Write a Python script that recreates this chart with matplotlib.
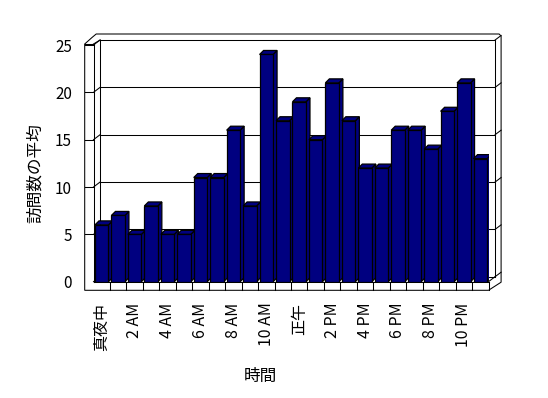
import matplotlib
matplotlib.use('Agg')
import matplotlib.pyplot as plt
from matplotlib.patches import Polygon

plt.rcParams['font.family'] = ['Noto Sans CJK JP', 'DejaVu Sans']

# ---- data ----
hours = list(range(24))
values = [6, 7, 5, 8, 5, 5, 11, 11, 16, 8, 24, 17, 19, 15, 21, 17, 12, 12, 16, 16, 14, 18, 21, 13]
tick_positions = [0, 2, 4, 6, 8, 10, 12, 14, 16, 18, 20, 22]
tick_labels = ['真夜中', '2 AM', '4 AM', '6 AM', '8 AM', '10 AM', '正午',
               '2 PM', '4 PM', '6 PM', '8 PM', '10 PM']
y_ticks = [0, 5, 10, 15, 20, 25]
x_title = '時間'
y_title = '訪問数の平均'

# ---- figure / axes ----
W, H = 548, 398
fig = plt.figure(figsize=(W / 100, H / 100), dpi=100)
fig.patch.set_facecolor('white')

bg = fig.add_axes([0, 0, 1, 1])
bg.set_xlim(0, W)
bg.set_ylim(H, 0)
bg.axis('off')

FRONT_L, FRONT_R, FRONT_B, FRONT_T = 93.5, 488.5, 281.7, 45.0
ax = fig.add_axes([FRONT_L / W, (H - FRONT_B) / H, (FRONT_R - FRONT_L) / W, (FRONT_B - FRONT_T) / H])
ax.set_xlim(-0.5, 23.5)
ax.set_ylim(0, 25)
ax.patch.set_alpha(0)
for s in ax.spines.values():
    s.set_visible(False)


def to_px(x, y):
    X, Y = ax.transData.transform((x, y))
    return X, H - Y


def to_data(px, py):
    return tuple(ax.transData.inverted().transform((px, H - py)))


WDX, WDY = 6.6, -5.0    # chart depth (pixels, y down)
BDX, BDY = 4.0, -4.0    # bar depth
FLOOR_H = 8.6
LWALL = 8.8
lwf = 0.75
K = 'black'

xl, yb = to_px(-0.5, 0)
xr, _ = to_px(23.5, 0)
_, yt = to_px(-0.5, 25)
xo = xl - LWALL            # outer left
yfb = yb + FLOOR_H         # floor bottom
yo_top = yt + WDY - 6.0    # outer top
xo_r = xr + WDX + 6.0      # outer right
bxl, bxr = xl + WDX, xr + WDX

# outer contour of walls + floor
outer = [(xo, yfb), (xo, yt - 1), (xo + 7.3, yt - 7.5), (xo + 11.5, yo_top),
         (xo_r - 2, yo_top), (xo_r, yo_top + 2), (xo_r, yb + WDY + 5.5), (xr, yfb)]
bg.add_patch(Polygon(outer, closed=True, facecolor='white', edgecolor=K, lw=lwf, zorder=0))

# back wall inner edges
bg.plot([bxl, bxl], [yt + WDY, yb + WDY], color=K, lw=lwf, zorder=1)
bg.plot([bxr, bxr], [yt + WDY, yb + WDY], color=K, lw=lwf, zorder=1)
# left wall front face
bg.plot([xl, xl], [yt - 1, yb], color=K, lw=lwf, zorder=1)
bg.plot([xo, xl], [yt - 1, yt - 1], color=K, lw=lwf, zorder=1)
bg.plot([xl, bxl], [yt - 1, yt + WDY], color=K, lw=lwf, zorder=1)
# floor
bg.plot([xl, xr], [yb, yb], color=K, lw=lwf, zorder=1)
bg.plot([xr, xr], [yb, yfb], color=K, lw=lwf, zorder=1)
bg.plot([xr, bxr], [yb, yb + WDY], color=K, lw=lwf, zorder=1)
for h in hours[1:]:
    xb, _ = to_px(h - 0.5, 0)
    bg.plot([xb, xb], [yb, yfb], color=K, lw=lwf, zorder=1)

# gridlines on the back wall with ticks on the walls
for v in y_ticks:
    _, y = to_px(-0.5, v)
    gy = y + WDY
    if v > 0:
        bg.plot([xo, xl], [y, y], color=K, lw=lwf, zorder=1)
    bg.plot([xl, bxl], [y, gy], color=K, lw=lwf, zorder=1)
    bg.plot([bxl, bxr], [gy, gy], color=K, lw=lwf, zorder=1)
    bg.plot([bxr, xo_r], [gy, gy - 4.5], color=K, lw=lwf, zorder=1)

# ---- 3D bars ----
NAVY = '#000080'
BW = 0.82
bars = ax.bar(hours, values, width=BW, color=NAVY, edgecolor=K, linewidth=0.9)
for i, (h, v, rect) in enumerate(zip(hours, values, bars)):
    z = 3 + i * 0.01
    rect.set_zorder(z + 0.005)
    pl, pt = to_px(h - BW / 2, v)
    pr, pb = to_px(h + BW / 2, 0)
    side = [to_data(pr, pb), to_data(pr, pt), to_data(pr + BDX, pt + BDY), to_data(pr + BDX, pb + BDY)]
    top = [to_data(pl, pt), to_data(pr, pt), to_data(pr + BDX, pt + BDY), to_data(pl + BDX, pt + BDY)]
    ax.add_patch(Polygon(side, closed=True, facecolor=NAVY, edgecolor=K, lw=0.9, zorder=z))
    ax.add_patch(Polygon(top, closed=True, facecolor=NAVY, edgecolor=K, lw=0.9, zorder=z))

# ---- ticks and labels ----
ax.set_yticks(y_ticks)
ax.set_yticklabels([str(t) for t in y_ticks], fontsize=11)
ax.set_xticks(tick_positions)
ax.set_xticklabels(tick_labels, rotation=90, fontsize=11.5)
ax.tick_params(axis='y', length=0, pad=15.5)
ax.tick_params(axis='x', length=0, pad=15)

fig.text(260 / W, 1 - 376 / H, x_title, ha='center', va='center', fontsize=12)
fig.text(35.5 / W, 1 - 173 / H, y_title, ha='center', va='center', rotation=90, fontsize=12)

fig.savefig('out.png', dpi=100, facecolor='white')
